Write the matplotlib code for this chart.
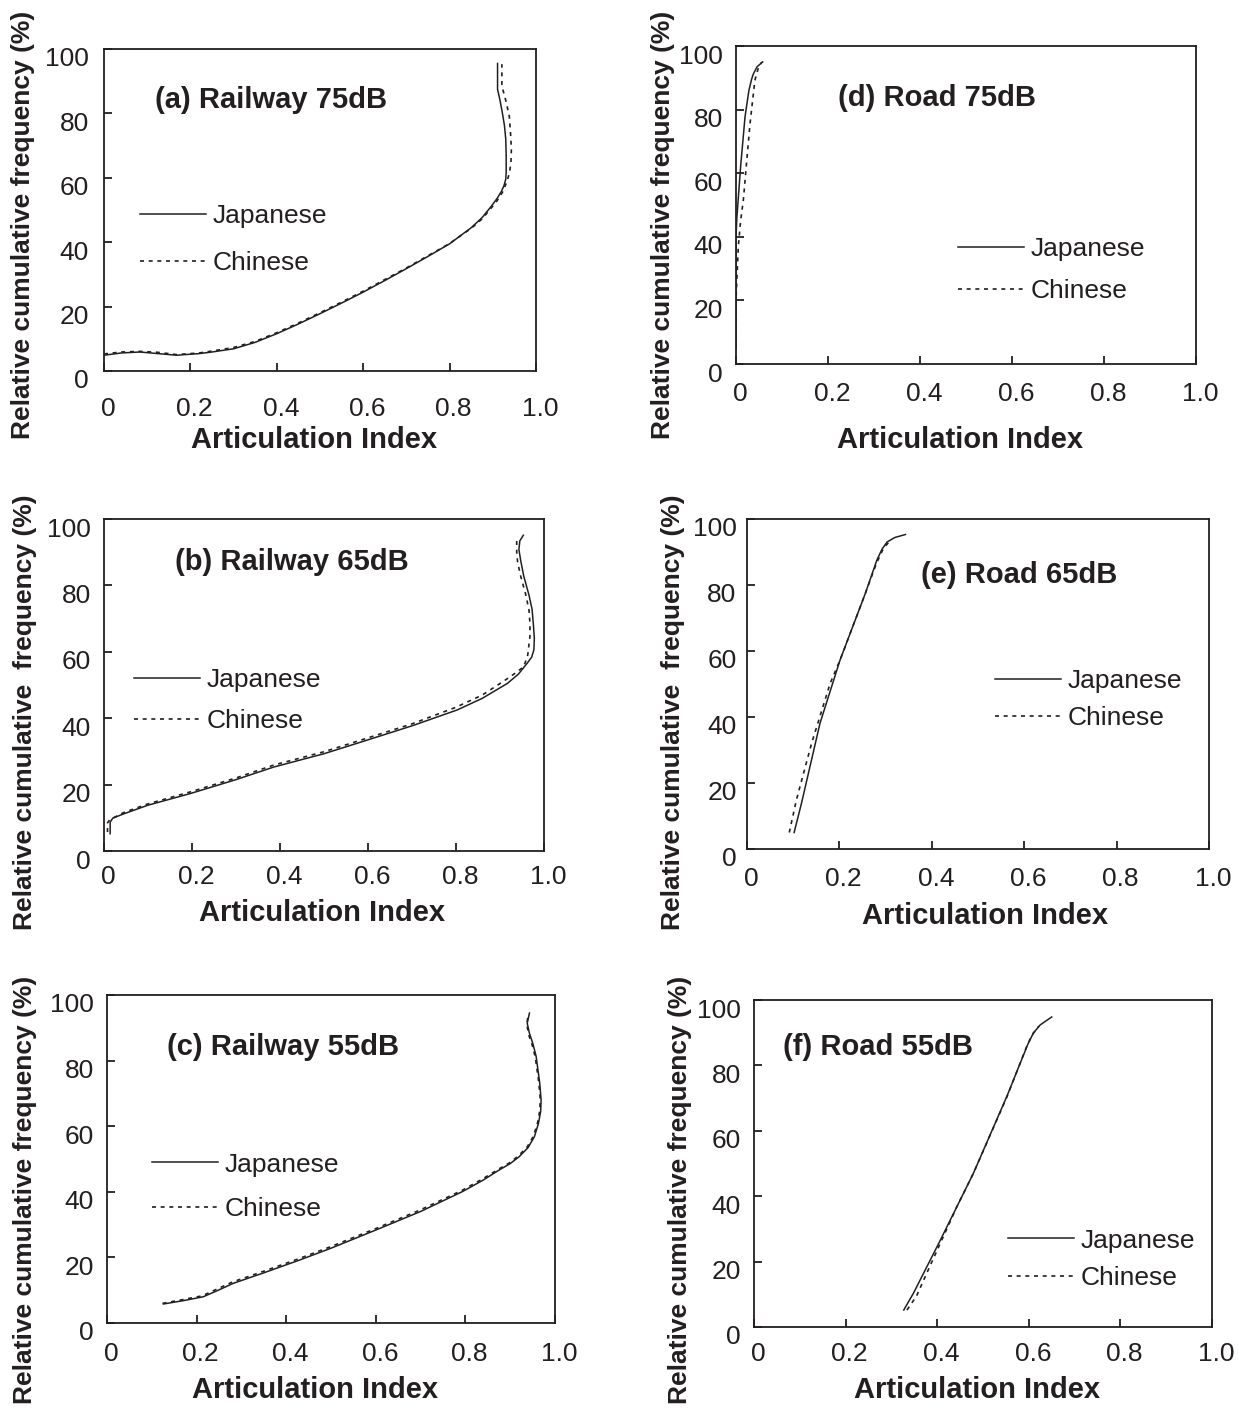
import matplotlib
matplotlib.use("Agg")
import matplotlib.pyplot as plt
import matplotlib.transforms as mtransforms

plt.rcParams['font.family'] = ['Liberation Sans', 'DejaVu Sans']
INK = '#231f20'

xticks = [0, 0.2, 0.4, 0.6, 0.8, 1.0]
xtick_labels = ['0', '0.2', '0.4', '0.6', '0.8', '1.0']
yticks = [0, 20, 40, 60, 80, 100]
ytick_labels = ['0', '20', '40', '60', '80', '100']
series_names = ['Japanese', 'Chinese']

# (a) Railway 75dB
rail75_jp_x = [0.0, 0.04, 0.083, 0.125, 0.168, 0.22, 0.25, 0.30, 0.35, 0.40, 0.45, 0.50, 0.55,
               0.60, 0.65, 0.70, 0.75, 0.80, 0.85, 0.875, 0.895, 0.910, 0.920, 0.926, 0.930,
               0.931, 0.931, 0.930, 0.927, 0.922, 0.916, 0.911, 0.911]
rail75_jp_y = [4.9, 5.6, 5.9, 5.4, 4.9, 5.4, 5.9, 6.9, 8.9, 11.6, 14.6, 17.8, 21.1,
               24.5, 28.1, 31.8, 35.6, 39.5, 44.5, 47.6, 50.9, 53.6, 55.8, 57.6, 59.6,
               61.7, 67.0, 72.0, 76.2, 80.3, 84.5, 87.5, 95.5]
rail75_cn_x = [0.0, 0.04, 0.083, 0.125, 0.168, 0.22, 0.25, 0.30, 0.35, 0.40, 0.45, 0.50, 0.55,
               0.60, 0.65, 0.70, 0.75, 0.80, 0.85, 0.875, 0.895, 0.910, 0.922, 0.932, 0.938,
               0.942, 0.943, 0.941, 0.938, 0.930, 0.921, 0.921]
rail75_cn_y = [5.3, 5.9, 6.1, 5.8, 5.1, 5.6, 6.2, 7.3, 9.2, 11.9, 14.9, 18.1, 21.4,
               24.8, 28.4, 32.0, 35.8, 39.6, 44.3, 47.2, 50.4, 52.9, 55.4, 58.6, 61.2,
               64.5, 68.9, 74.0, 79.3, 84.0, 88.6, 95.3]

# (b) Railway 65dB
rail65_jp_x = [0.014, 0.014, 0.020, 0.045, 0.10, 0.196, 0.30, 0.386, 0.50, 0.598, 0.70, 0.803,
               0.86, 0.917, 0.942, 0.962, 0.972, 0.977, 0.978, 0.976, 0.973, 0.966, 0.954,
               0.947, 0.943, 0.945, 0.953]
rail65_jp_y = [5.2, 8.7, 9.9, 11.2, 13.8, 17.3, 21.5, 25.3, 29.3, 33.4, 37.7, 42.5,
               46.0, 50.5, 53.3, 56.6, 58.4, 60.6, 64.0, 68.0, 72.7, 77.0, 82.8,
               87.5, 90.8, 93.4, 95.1]
rail65_cn_x = [0.008, 0.008, 0.014, 0.045, 0.10, 0.196, 0.30, 0.386, 0.50, 0.598, 0.70, 0.800,
               0.86, 0.910, 0.935, 0.954, 0.963, 0.968, 0.968, 0.966, 0.958, 0.947, 0.940,
               0.938, 0.938]
rail65_cn_y = [5.7, 8.5, 9.5, 11.6, 14.2, 17.8, 22.0, 25.9, 29.9, 34.0, 38.3, 43.3,
               47.0, 51.3, 53.6, 55.5, 59.0, 64.6, 68.5, 72.5, 77.5, 82.8, 87.0,
               90.0, 94.4]

# (c) Railway 55dB
rail55_jp_x = [0.126, 0.17, 0.215, 0.25, 0.282, 0.35, 0.430, 0.50, 0.601, 0.70, 0.794, 0.84,
               0.876, 0.900, 0.920, 0.940, 0.954, 0.963, 0.968, 0.969, 0.966, 0.958, 0.951,
               0.943, 0.938, 0.943]
rail55_jp_y = [5.8, 6.8, 8.0, 10.1, 12.1, 15.3, 19.2, 22.8, 28.4, 34.0, 40.1, 43.6,
               46.7, 48.6, 50.7, 53.5, 56.8, 60.8, 64.5, 68.0, 73.0, 81.2, 85.0,
               88.3, 91.4, 94.5]
rail55_cn_x = [0.124, 0.168, 0.213, 0.248, 0.280, 0.348, 0.428, 0.498, 0.600, 0.698, 0.792,
               0.838, 0.874, 0.898, 0.918, 0.938, 0.952, 0.961, 0.966, 0.967, 0.964, 0.956,
               0.949, 0.941, 0.937, 0.940]
rail55_cn_y = [6.0, 7.1, 8.3, 10.5, 12.5, 15.7, 19.6, 23.2, 28.8, 34.4, 40.4, 43.9,
               46.9, 48.8, 50.9, 53.7, 57.0, 61.0, 64.7, 68.2, 73.2, 81.0, 84.8,
               88.0, 91.2, 93.8]

# (d) Road 75dB
road75_jp_x = [0.0, 0.0, 0.002, 0.010, 0.0196, 0.028, 0.034, 0.038, 0.046, 0.058]
road75_jp_y = [5.0, 40.0, 46.3, 62.0, 77.7, 86.0, 89.6, 91.3, 93.5, 95.0]
road75_cn_x = [0.0, 0.0, 0.005, 0.010, 0.016, 0.024, 0.0305, 0.037, 0.041, 0.048, 0.056]
road75_cn_y = [5.0, 20.0, 36.9, 45.0, 51.6, 65.0, 75.6, 84.0, 89.2, 92.8, 95.0]

# (e) Road 65dB
road65_jp_x = [0.102, 0.118, 0.158, 0.2015, 0.256, 0.281, 0.292, 0.303, 0.320, 0.343]
road65_jp_y = [5.0, 13.9, 38.1, 57.3, 77.4, 87.5, 90.8, 93.0, 94.4, 95.3]
road65_cn_x = [0.0915, 0.107, 0.140, 0.180, 0.2015, 0.256, 0.280, 0.295, 0.310]
road65_cn_y = [5.0, 14.9, 32.1, 50.2, 57.3, 77.4, 86.5, 91.0, 93.5]

# (f) Road 55dB
road55_jp_x = [0.327, 0.348, 0.407, 0.479, 0.552, 0.598, 0.610, 0.625, 0.650]
road55_jp_y = [5.2, 10.3, 26.6, 47.0, 70.5, 86.5, 89.9, 92.4, 94.8]
road55_cn_x = [0.334, 0.355, 0.377, 0.443, 0.479, 0.552, 0.596, 0.608, 0.622]
road55_cn_y = [5.2, 9.5, 16.4, 36.8, 47.0, 70.3, 86.0, 89.5, 92.0]

W, H = 1238, 1409


def px_rect(l, t, r, b):
    return [l / W, 1 - b / H, (r - l) / W, (b - t) / H]


# layout per panel: box in pixels, title spot, legend spot, label spots, tick pads
panels = [
    dict(title='(a) Railway 75dB', box=(104, 49, 536, 371),
         jp=(rail75_jp_x, rail75_jp_y), cn=(rail75_cn_x, rail75_cn_y),
         title_xy=(0.118, 0.842), leg_xy=(0.083, 0.408), leg_sp=0.85,
         xl_xy=(0.486, -0.214), yl_xy=(-0.1875, 0.453), xpad=18.5, ypad=11,
         ylabel='Relative cumulative frequency (%)'),
    dict(title='(d) Road 75dB', box=(736, 46, 1196, 364),
         jp=(road75_jp_x, road75_jp_y), cn=(road75_cn_x, road75_cn_y),
         title_xy=(0.222, 0.836), leg_xy=(0.483, 0.296), leg_sp=0.68,
         xl_xy=(0.487, -0.239), yl_xy=(-0.159, 0.437), xpad=12.8, ypad=9.5,
         ylabel='Relative cumulative frequency (%)'),
    dict(title='(b) Railway 65dB', box=(104, 519, 544, 851),
         jp=(rail65_jp_x, rail65_jp_y), cn=(rail65_cn_x, rail65_cn_y),
         title_xy=(0.161, 0.870), leg_xy=(0.068, 0.452), leg_sp=0.64,
         xl_xy=(0.495, -0.187), yl_xy=(-0.18, 0.419), xpad=9.9, ypad=9.5,
         ylabel='Relative cumulative  frequency (%)'),
    dict(title='(e) Road 65dB', box=(747, 519, 1209, 849),
         jp=(road65_jp_x, road65_jp_y), cn=(road65_cn_x, road65_cn_y),
         title_xy=(0.377, 0.830), leg_xy=(0.537, 0.452), leg_sp=0.50,
         xl_xy=(0.515, -0.203), yl_xy=(-0.160, 0.415), xpad=12.8, ypad=7.5,
         ylabel='Relative cumulative  frequency (%)'),
    dict(title='(c) Railway 55dB', box=(107, 995, 555, 1323),
         jp=(rail55_jp_x, rail55_jp_y), cn=(rail55_cn_x, rail55_cn_y),
         title_xy=(0.134, 0.841), leg_xy=(0.100, 0.415), leg_sp=0.78,
         xl_xy=(0.464, -0.205), yl_xy=(-0.183, 0.405), xpad=13.5, ypad=9.5,
         ylabel='Relative cumulative frequency (%)'),
    dict(title='(f) Road 55dB', box=(754, 1000, 1212, 1327),
         jp=(road55_jp_x, road55_jp_y), cn=(road55_cn_x, road55_cn_y),
         title_xy=(0.063, 0.856), leg_xy=(0.555, 0.207), leg_sp=0.50,
         xl_xy=(0.487, -0.194), yl_xy=(-0.162, 0.419), xpad=10.6, ypad=9.5,
         ylabel='Relative cumulative frequency (%)'),
]

fig = plt.figure(figsize=(W / 100, H / 100), dpi=100)

for p in panels:
    ax = fig.add_axes(px_rect(*p['box']))
    ax.plot(p['jp'][0], p['jp'][1], color=INK, lw=1.1, ls='-', label=series_names[0])
    ax.plot(p['cn'][0], p['cn'][1], color=INK, lw=1.2, ls=(0, (2.4, 2.8)),
            label=series_names[1])
    ax.set_xlim(0, 1.0)
    ax.set_ylim(0, 100)
    ax.set_xticks(xticks)
    ax.set_xticklabels(xtick_labels)
    ax.set_yticks(yticks)
    ax.set_yticklabels(ytick_labels)
    ax.tick_params(axis='both', direction='in', length=6, width=1.3, colors=INK,
                   labelsize=19, top=False, right=False)
    ax.tick_params(axis='x', pad=p['xpad'])
    ax.tick_params(axis='y', pad=p['ypad'])
    for sp in ax.spines.values():
        sp.set_linewidth(1.3)
        sp.set_color(INK)

    # slight shift of tick labels
    dx = mtransforms.ScaledTranslation(4 / 100, 0, fig.dpi_scale_trans)
    dy = mtransforms.ScaledTranslation(0, -8 / 100, fig.dpi_scale_trans)
    for lab in ax.get_xticklabels():
        lab.set_transform(lab.get_transform() + dx)
    for lab in ax.get_yticklabels():
        lab.set_transform(lab.get_transform() + dy)

    ax.set_xlabel('Articulation Index', fontsize=21, fontweight='bold', color=INK)
    ax.xaxis.set_label_coords(*p['xl_xy'])
    ax.xaxis.label.set_va('center')
    ax.set_ylabel(p['ylabel'], fontsize=19, fontweight='bold', color=INK)
    ax.yaxis.set_label_coords(*p['yl_xy'])
    ax.yaxis.label.set_va('center')

    ax.text(p['title_xy'][0], p['title_xy'][1], p['title'], transform=ax.transAxes,
            fontsize=21, fontweight='bold', color=INK, ha='left', va='center')

    leg = ax.legend(loc='center left', bbox_to_anchor=p['leg_xy'], frameon=False,
                    fontsize=19, handlelength=2.5, handletextpad=0.25,
                    labelspacing=p['leg_sp'], borderpad=0, borderaxespad=0)
    for t in leg.get_texts():
        t.set_color(INK)

fig.savefig('out.png', dpi=100)
